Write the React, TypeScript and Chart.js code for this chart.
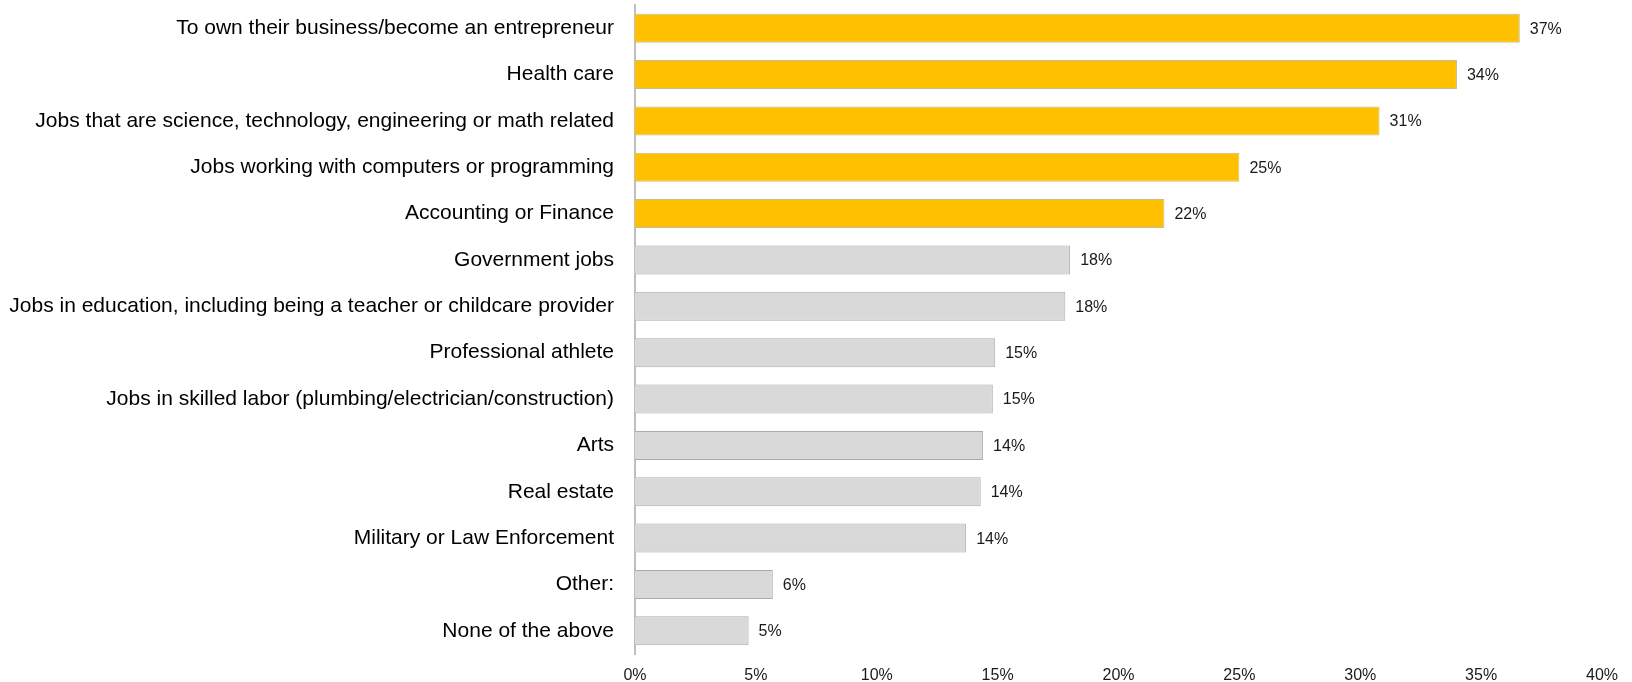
import React, { useEffect, useRef } from "react";
import { Chart, registerables } from "chart.js";

Chart.register(...registerables);

const categories = [
  "To own their business/become an entrepreneur",
  "Health care",
  "Jobs that are science, technology, engineering or math related",
  "Jobs working with computers or programming",
  "Accounting or Finance",
  "Government jobs",
  "Jobs in education, including being a teacher or childcare provider",
  "Professional athlete",
  "Jobs in skilled labor (plumbing/electrician/construction)",
  "Arts",
  "Real estate",
  "Military or Law Enforcement",
  "Other:",
  "None of the above",
];

const values = [36.6, 34.0, 30.8, 25.0, 21.9, 18.0, 17.8, 14.9, 14.8, 14.4, 14.3, 13.7, 5.7, 4.7];
const highlighted = [true, true, true, true, true, false, false, false, false, false, false, false, false, false];
const xTicks = [0, 5, 10, 15, 20, 25, 30, 35, 40];

const FONT = "'Liberation Sans', Arial, sans-serif";

const valueLabelPlugin = {
  id: "valueLabels",
  afterDatasetsDraw(chart: any) {
    const ctx = chart.ctx;
    const meta = chart.getDatasetMeta(0);
    ctx.save();
    ctx.font = `16px ${FONT}`;
    ctx.fillStyle = "#1a1a1a";
    ctx.textAlign = "left";
    ctx.textBaseline = "middle";
    meta.data.forEach((bar: any, i: number) => {
      ctx.fillText(`${Math.round(values[i])}%`, bar.x + 10, bar.y + 1);
    });
    ctx.restore();
  },
};

export default function App() {
  const ref = useRef<HTMLCanvasElement | null>(null);

  useEffect(() => {
    if (!ref.current) return;
    const chart = new Chart(ref.current, {
      type: "bar",
      data: {
        labels: categories,
        datasets: [
          {
            data: values,
            backgroundColor: highlighted.map((h) => (h ? "#FFC000" : "#D9D9D9")),
            borderColor: highlighted.map((h) => (h ? "#C8BC94" : "#ABABAB")),
            borderWidth: 1,
            borderSkipped: "start",
            barPercentage: 0.625,
            categoryPercentage: 1,
          },
        ],
      },
      options: {
        indexAxis: "y",
        responsive: false,
        animation: false,
        layout: { padding: { top: 5, right: 30, left: 0, bottom: 0 } },
        plugins: {
          legend: { display: false },
          tooltip: { enabled: false },
        },
        scales: {
          x: {
            type: "linear",
            min: 0,
            max: 40,
            afterBuildTicks: (scale: any) => {
              scale.ticks = xTicks.map((v) => ({ value: v }));
            },
            afterFit: (scale: any) => {
              scale.height = 28;
              scale.paddingLeft = 0;
              scale.paddingRight = 0;
            },
            grid: { display: false, drawTicks: false },
            border: { display: false },
            ticks: {
              padding: 12,
              color: "#1a1a1a",
              font: { family: FONT, size: 16 },
              callback: (v: any) => `${v}%`,
            },
          },
          y: {
            afterFit: (scale: any) => {
              scale.width = 635;
              scale.paddingTop = 0;
              scale.paddingBottom = 0;
            },
            grid: { display: false, drawTicks: false },
            border: { display: true, color: "#BFBFBF", width: 2 },
            ticks: {
              padding: 21,
              color: "#000000",
              font: { family: FONT, size: 21 },
            },
          },
        },
      },
      plugins: [valueLabelPlugin],
    });
    return () => chart.destroy();
  }, []);

  return (
    <div style={{ position: "fixed", left: 0, top: 0, width: 1632, height: 682, background: "#fff" }}>
      <canvas ref={ref} width={1632} height={682} style={{ display: "block" }} />
    </div>
  );
}
